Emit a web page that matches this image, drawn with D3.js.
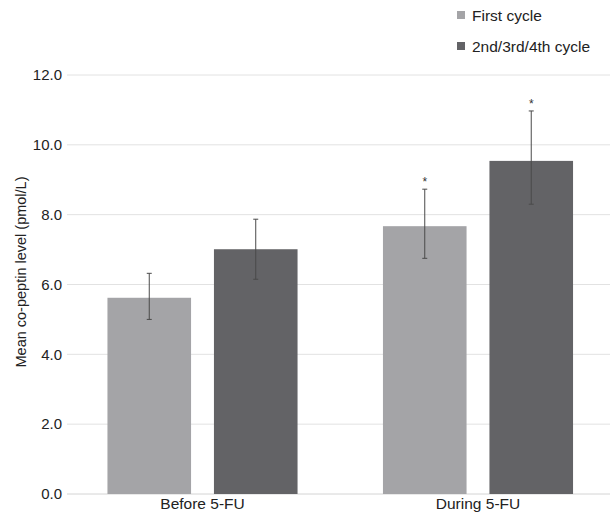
<!DOCTYPE html>
<html>
<head>
<meta charset="utf-8">
<script src="https://cdn.jsdelivr.net/npm/d3@7"></script>
<style>
  body { margin: 0; background: #fff; }
  svg { display: block; font-family: "Liberation Sans", Arial, sans-serif; }
</style>
</head>
<body>
<svg id="chart" width="610" height="515"></svg>
<script>
const categories = ["Before 5-FU", "During 5-FU"];
const series = ["First cycle", "2nd/3rd/4th cycle"];
const firstCycle = [5.62, 7.67];
const laterCycles = [7.01, 9.54];
const firstLow = [5.0, 6.75];
const firstHigh = [6.32, 8.73];
const laterLow = [6.15, 8.3];
const laterHigh = [7.87, 10.97];
const significant = [[false, false], [true, true]];
const yTicks = [0, 2, 4, 6, 8, 10, 12];
const colors = ["#a4a4a7", "#636366"];

const svg = d3.select("#chart");
const gridX0 = 67, yTop = 75, yBot = 494;

const y = d3.scaleLinear().domain([0, 12]).range([yBot, yTop]);
const xBand = d3.scaleBand().domain(categories).range([64.75, 615.75]).paddingInner(0.31).paddingOuter(0.155);
const xSub = d3.scaleBand().domain(series).range([0, xBand.bandwidth()]).paddingInner(0.215);

// grid
svg.append("g").selectAll("line").data(yTicks).join("line")
  .attr("x1", gridX0).attr("x2", 610)
  .attr("y1", d => y(d)).attr("y2", d => y(d))
  .attr("stroke", d => d === 0 ? "#d4d4d4" : "#e2e2e2").attr("stroke-width", 1);

// y axis labels
const yAxis = d3.axisLeft(y).tickValues(yTicks).tickFormat(d3.format(".1f")).tickSize(0).tickPadding(0);
const ga = svg.append("g").attr("transform", `translate(62,0)`).call(yAxis);
ga.select(".domain").remove();
ga.selectAll("text").attr("font-size", 15).attr("fill", "#222").attr("font-family", "Liberation Sans, Arial, sans-serif");

// x axis labels
const xAxis = d3.axisBottom(xBand).tickSize(0).tickPadding(0);
const gx = svg.append("g").attr("transform", `translate(0,${yBot + 4})`).call(xAxis);
gx.select(".domain").remove();
gx.selectAll("text").attr("font-size", 15.5).attr("fill", "#222").attr("font-family", "Liberation Sans, Arial, sans-serif");

// bars
const rows = [];
categories.forEach((c, i) => {
  rows.push({ c, s: series[0], v: firstCycle[i], lo: firstLow[i], hi: firstHigh[i], sig: significant[i][0], col: colors[0] });
  rows.push({ c, s: series[1], v: laterCycles[i], lo: laterLow[i], hi: laterHigh[i], sig: significant[i][1], col: colors[1] });
});

const g = svg.append("g");
g.selectAll("rect.bar").data(rows).join("rect")
  .attr("class", "bar")
  .attr("x", d => xBand(d.c) + xSub(d.s))
  .attr("width", xSub.bandwidth())
  .attr("y", d => y(d.v))
  .attr("height", d => y(0) - y(d.v))
  .attr("fill", d => d.col);

const cx = d => xBand(d.c) + xSub(d.s) + xSub.bandwidth() / 2;
const eb = g.selectAll("g.err").data(rows).join("g").attr("class", "err");
eb.append("line").attr("x1", cx).attr("x2", cx).attr("y1", d => y(d.lo)).attr("y2", d => y(d.hi))
  .attr("stroke", "#4a4a4a").attr("stroke-width", 1);
eb.append("line").attr("x1", d => cx(d) - 2.5).attr("x2", d => cx(d) + 2.5).attr("y1", d => y(d.hi)).attr("y2", d => y(d.hi))
  .attr("stroke", "#4a4a4a").attr("stroke-width", 1);
eb.append("line").attr("x1", d => cx(d) - 2.5).attr("x2", d => cx(d) + 2.5).attr("y1", d => y(d.lo)).attr("y2", d => y(d.lo))
  .attr("stroke", "#4a4a4a").attr("stroke-width", 1);

g.selectAll("text.sig").data(rows.filter(d => d.sig)).join("text")
  .attr("class", "sig")
  .attr("x", cx).attr("y", d => y(d.hi) - 3)
  .attr("text-anchor", "middle").attr("font-size", 12).attr("fill", "#333")
  .text("*");

// y label
svg.append("text")
  .attr("transform", "translate(26,272) rotate(-90)")
  .attr("text-anchor", "middle").attr("font-size", 14.5).attr("fill", "#222")
  .text("Mean co-peptin level (pmol/L)");

// legend
const lg = svg.append("g");
series.forEach((s, i) => {
  lg.append("rect").attr("x", 457).attr("y", 11 + i * 31).attr("width", 8).attr("height", 8).attr("fill", colors[i]);
  lg.append("text").attr("x", 472).attr("y", 21 + i * 31).attr("font-size", 15.5).attr("fill", "#222").text(s);
});
</script>
</body>
</html>
